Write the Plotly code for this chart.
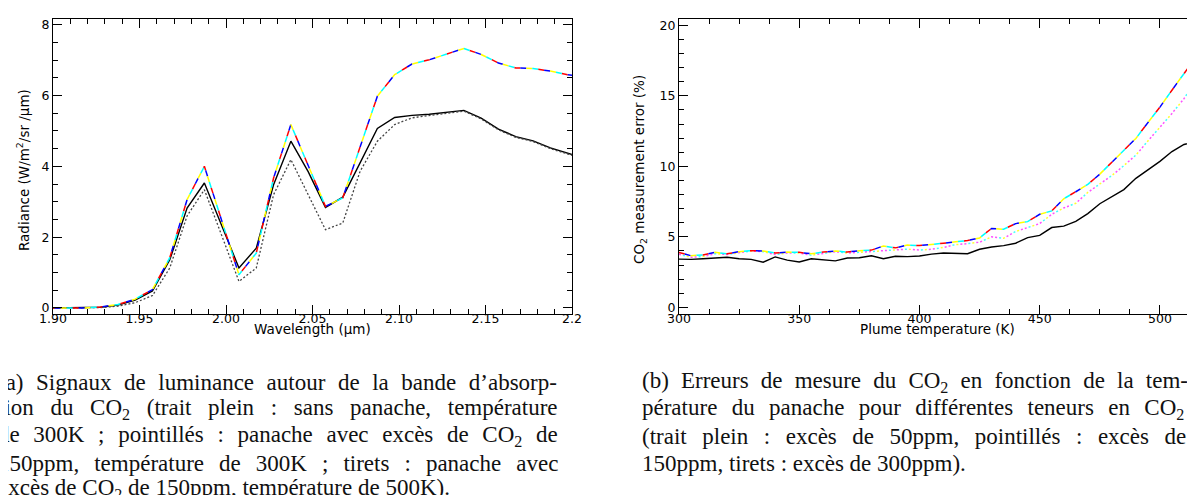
import plotly.graph_objects as go

# ---------------- data: panel (a) ----------------
wavelength_um = [1.8975, 1.9075, 1.9175, 1.9275, 1.9375, 1.9475, 1.9575, 1.9675,
                 1.9775, 1.9875, 1.9975, 2.0075, 2.0175, 2.0275, 2.0375, 2.0475,
                 2.0575, 2.0675, 2.0775, 2.0875, 2.0975, 2.1075, 2.1175, 2.1275,
                 2.1375, 2.1475, 2.1575, 2.1675, 2.1775, 2.1875, 2.1975, 2.2075]
radiance_no_plume = [0, 0, 0, 0.02, 0.08, 0.22, 0.48, 1.36,
                     2.82, 3.53, 2.33, 1.13, 1.69, 3.48, 4.71, 3.85,
                     2.84, 3.13, 4.10, 5.07, 5.38, 5.44, 5.47, 5.52,
                     5.58, 5.36, 5.05, 4.84, 4.72, 4.52, 4.36, 4.22]
radiance_150ppm_300K = [0, 0, 0, 0.01, 0.05, 0.15, 0.35, 1.13,
                        2.60, 3.34, 2.05, 0.75, 1.13, 3.20, 4.19, 3.20,
                        2.21, 2.40, 3.86, 4.71, 5.18, 5.37, 5.44, 5.50,
                        5.56, 5.34, 5.03, 4.82, 4.70, 4.50, 4.34, 4.20]
radiance_150ppm_500K = [0, 0, 0, 0.03, 0.10, 0.25, 0.52, 1.42,
                        3.06, 4.00, 2.47, 0.94, 1.55, 3.67, 5.18, 4.05,
                        2.87, 3.11, 4.55, 5.98, 6.59, 6.89, 7.01, 7.18,
                        7.33, 7.16, 6.92, 6.78, 6.76, 6.69, 6.59, 6.52]
wl_tickvals = [1.90, 1.95, 2.00, 2.05, 2.10, 2.15, 2.2]
wl_ticktext = ["1.90", "1.95", "2.00", "2.05", "2.10", "2.15", "2.2"]
rad_tickvals = [0, 2, 4, 6, 8]

# ---------------- data: panel (b) ----------------
plume_temp_K = [300, 305, 310, 315, 320, 325, 330, 335, 340, 345, 350, 355,
                360, 365, 370, 375, 380, 385, 390, 395, 400, 405, 410, 415,
                420, 425, 430, 435, 440, 445, 450, 455, 460, 465, 470, 475,
                480, 485, 490, 495, 500, 505, 510, 515]
error_50ppm = [3.42, 3.40, 3.45, 3.50, 3.55, 3.45, 3.40, 3.20, 3.58, 3.35, 3.22, 3.45,
               3.40, 3.30, 3.50, 3.52, 3.66, 3.45, 3.62, 3.60, 3.64, 3.78, 3.86, 3.84,
               3.80, 4.12, 4.28, 4.38, 4.55, 4.95, 5.10, 5.66, 5.76, 6.10, 6.65, 7.35,
               7.85, 8.35, 9.15, 9.75, 10.35, 11.05, 11.55, 11.78]
error_150ppm = [3.77, 3.55, 3.60, 3.80, 3.75, 3.90, 4.00, 3.95, 3.75, 3.85, 3.85, 3.70,
                3.80, 3.95, 3.85, 3.90, 3.95, 4.00, 4.05, 4.13, 4.07, 4.12, 4.25, 4.45,
                4.52, 4.62, 5.00, 4.90, 5.38, 5.68, 5.94, 6.60, 7.05, 7.38, 8.15, 8.75,
                9.35, 10.05, 10.80, 11.80, 12.75, 13.75, 14.80, 16.10]
error_300ppm = [3.89, 3.66, 3.72, 3.90, 3.80, 3.95, 4.02, 4.00, 3.85, 3.92, 3.90, 3.80,
                3.92, 4.00, 3.92, 4.02, 4.06, 4.35, 4.22, 4.42, 4.38, 4.45, 4.55, 4.65,
                4.74, 4.92, 5.60, 5.54, 5.94, 6.08, 6.60, 6.84, 7.70, 8.20, 8.72, 9.45,
                10.30, 11.20, 11.98, 13.10, 14.20, 15.40, 16.60, 17.75]
temp_tickvals = [300, 350, 400, 450, 500]
err_tickvals = [0, 5, 10, 15, 20]

# ---------------- captions (text, word spacing in px for justification) ----------------
caption_a = ["(a) Signaux de luminance autour de la bande d’absorp-",
             "tion du CO<sub>2</sub> (trait plein : sans panache, température",
             "de 300K ; pointillés : panache avec excès de CO<sub>2</sub> de",
             "150ppm, température de 300K ; tirets : panache avec",
             "excès de CO<sub>2</sub> de 150ppm, température de 500K)."]
caption_a_wordspacing = [6.8, 10.9, 7.9, 9.3, 0]
caption_b = ["(b) Erreurs de mesure du CO<sub>2</sub> en fonction de la tem-",
             "pérature du panache pour différentes teneurs en CO<sub>2</sub>",
             "(trait plein : excès de 50ppm, pointillés : excès de",
             "150ppm, tirets : excès de 300ppm)."]
caption_b_wordspacing = [6.4, 8.6, 9.8, 0]

# ---------------- styling ----------------
W, H = 1195, 495
TICK_FONT = dict(family="DejaVu Sans, sans-serif", size=12.5, color="black")
TITLE_FONT = dict(family="DejaVu Sans, sans-serif", size=13.5, color="black")
CAP_FONT = dict(family="Liberation Serif, serif", size=23, color="#111")

dash_cycle = [("#ff0000", "6px,18px"), ("#0000ff", "0px,6px,6px,12px"),
              ("#ffff00", "0px,12px,6px,6px"), ("#00ffff", "0px,18px,6px,0px")]
dot_cycle = [("#ff50ff", "2px,14px"), ("#40ffff", "0px,4px,2px,10px"),
             ("#ffff30", "0px,8px,2px,6px"), ("#ff50ff", "0px,12px,2px,2px")]

fig = go.Figure()


def add_multicolor(x, y, cycle, xa, ya, width=1.5):
    for col, dash in cycle:
        fig.add_trace(go.Scatter(x=x, y=y, mode="lines", xaxis=xa, yaxis=ya,
                                 line=dict(color=col, width=width, dash=dash),
                                 hoverinfo="skip", showlegend=False))


# panel (a)
fig.add_trace(go.Scatter(x=wavelength_um, y=radiance_no_plume, mode="lines",
                         xaxis="x", yaxis="y", line=dict(color="black", width=1.4),
                         showlegend=False))
fig.add_trace(go.Scatter(x=wavelength_um, y=radiance_150ppm_300K, mode="lines",
                         xaxis="x", yaxis="y",
                         line=dict(color="#444444", width=1.3, dash="2px,2px"),
                         showlegend=False))
add_multicolor(wavelength_um, radiance_150ppm_500K, dash_cycle, "x", "y")

# panel (b)
fig.add_trace(go.Scatter(x=plume_temp_K, y=error_50ppm, mode="lines",
                         xaxis="x2", yaxis="y2", line=dict(color="black", width=1.4),
                         showlegend=False))
add_multicolor(plume_temp_K, error_150ppm, dot_cycle, "x2", "y2", width=1.5)
add_multicolor(plume_temp_K, error_300ppm, dash_cycle, "x2", "y2")

# axes geometry (pixels -> paper)
ax_a = (45 / W, 564 / W)
ax_b = (671 / W, 1188 / W)
y_dom = (1 - 306 / H, 1 - 10.7 / H)

common = dict(showline=True, linecolor="black", linewidth=1, mirror="ticks",
              ticks="inside", ticklen=9, tickwidth=1, tickcolor="black",
              showgrid=False, zeroline=False, tickfont=TICK_FONT, automargin=False)

fig.update_layout(
    template="none",
    width=W, height=H,
    margin=dict(l=0, r=0, t=0, b=0, autoexpand=False),
    paper_bgcolor="white", plot_bgcolor="white",
    font=dict(family="DejaVu Sans, sans-serif", color="black"),
    showlegend=False,
    xaxis=dict(domain=ax_a, range=[1.9, 2.2], tickvals=wl_tickvals, ticktext=wl_ticktext,
               ticklabelstandoff=-7,
               minor=dict(ticks="inside", ticklen=5, dtick=0.01, tick0=1.9,
                          tickcolor="black", showgrid=False),
               anchor="y", **common),
    yaxis=dict(domain=y_dom, range=[-0.17, 8.17], tickvals=rad_tickvals,
               minor=dict(ticks="inside", ticklen=5, dtick=0.5, tick0=0,
                          tickcolor="black", showgrid=False),
               anchor="x", **common),
    xaxis2=dict(domain=ax_b, range=[300, 515], tickvals=temp_tickvals,
                ticklabelstandoff=-7,
                minor=dict(ticks="inside", ticklen=5, dtick=12.5, tick0=300,
                           tickcolor="black", showgrid=False),
                anchor="y2", **common),
    yaxis2=dict(domain=y_dom, range=[-0.47, 20.47], tickvals=err_tickvals,
                minor=dict(ticks="inside", ticklen=5, dtick=1, tick0=0,
                           tickcolor="black", showgrid=False),
                anchor="x2", **common),
)

ann = []
# axis titles
ann.append(dict(text="Wavelength (μm)", x=(ax_a[0] + ax_a[1]) / 2, y=1 - 321 / H,
                xref="paper", yref="paper", showarrow=False, font=TITLE_FONT,
                xanchor="center", yanchor="middle"))
ann.append(dict(text="Plume temperature (K)", x=(ax_b[0] + ax_b[1]) / 2, y=1 - 321 / H,
                xref="paper", yref="paper", showarrow=False, font=TITLE_FONT,
                xanchor="center", yanchor="middle"))
ann.append(dict(text="Radiance (W/m<sup>2</sup>/sr /μm)", x=15 / W, y=1 - 162 / H,
                xref="paper", yref="paper", showarrow=False, font=TITLE_FONT,
                textangle=-90, xanchor="center", yanchor="middle"))
ann.append(dict(text="CO<sub>2</sub> measurement error (%)", x=632 / W, y=1 - 162 / H,
                xref="paper", yref="paper", showarrow=False, font=TITLE_FONT,
                textangle=-90, xanchor="center", yanchor="middle"))

# captions
line_y = [374, 401, 428, 455, 481]


def caption_line(t, ws):
    if ws:
        return '<span style="word-spacing:%.1fpx">%s</span>' % (ws, t)
    return t


for i, t in enumerate(caption_a):
    ann.append(dict(text=caption_line(t, caption_a_wordspacing[i]), x=-12 / W,
                    y=1 - line_y[i] / H, xref="paper", yref="paper",
                    showarrow=False, font=CAP_FONT, xanchor="left", yanchor="middle",
                    align="left"))
for i, t in enumerate(caption_b):
    ann.append(dict(text=caption_line(t, caption_b_wordspacing[i]), x=632 / W,
                    y=1 - line_y[i] / H, xref="paper", yref="paper",
                    showarrow=False, font=CAP_FONT, xanchor="left", yanchor="middle",
                    align="left"))

fig.update_layout(annotations=ann)
fig.write_html("out.html")
